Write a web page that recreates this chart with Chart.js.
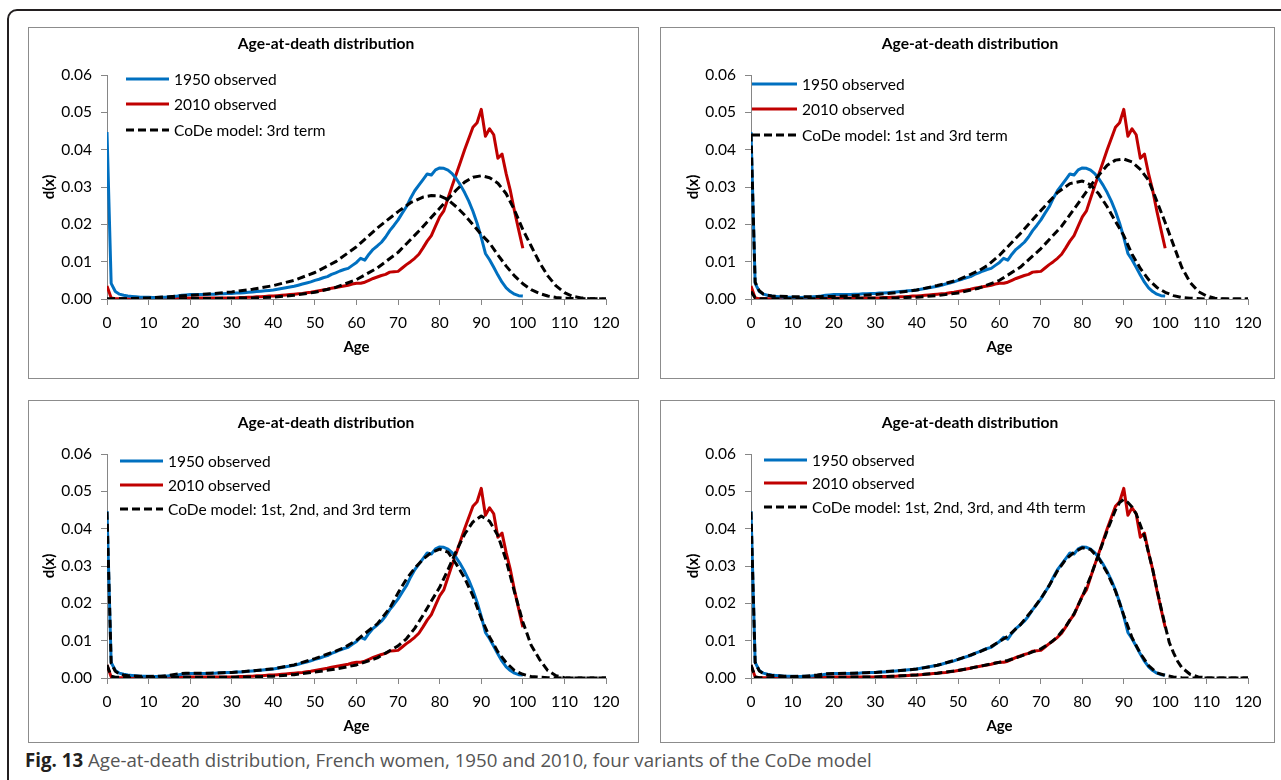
<!DOCTYPE html>
<html>
<head>
<meta charset="utf-8">
<script src="https://cdn.jsdelivr.net/npm/chart.js@4.4.1/dist/chart.umd.min.js"></script>
<style>
  html, body { margin: 0; padding: 0; background: #fff; }
  body { width: 1281px; height: 780px; position: relative; overflow: hidden; }
  #frame { position: absolute; left: 7px; top: 9px; width: 1320px; height: 820px;
           border: 2px solid #231f20; border-radius: 10px; box-sizing: border-box; }
  .panel { position: absolute; border: 1px solid #8c8c8c; background: #fff; }
  .panel canvas { display: block; }
  #caption { position: absolute; left: 25px; top: 747px; font-family: "Open Sans"; font-size: 18.7px;
             color: #555; white-space: nowrap; }
  #caption b { color: #231f20; }
</style>
</head>
<body>
<div id="frame"></div>
<div class="panel" style="left:28px;top:27px;width:609px;height:350px"><canvas id="p1" width="609" height="350"></canvas></div>
<div class="panel" style="left:660px;top:27px;width:613px;height:350px"><canvas id="p2" width="613" height="350"></canvas></div>
<div class="panel" style="left:28px;top:400px;width:609px;height:341px"><canvas id="p3" width="609" height="341"></canvas></div>
<div class="panel" style="left:660px;top:400px;width:613px;height:341px"><canvas id="p4" width="613" height="341"></canvas></div>
<div id="caption"><b>Fig. 13</b> Age-at-death distribution, French women, 1950 and 2010, four variants of the CoDe model</div>

<script>
// observed d(x), single years of age 0..100
var obsAges = [];
for (var a = 0; a <= 100; a++) obsAges.push(a);

var obs1950 = [
  0.0447, 0.0042, 0.0020, 0.0013, 0.0010, 0.0008, 0.0007, 0.0006, 0.0005, 0.0005,
  0.0005, 0.0004, 0.0004, 0.0005, 0.0005, 0.0006, 0.0007, 0.0008, 0.0010, 0.0011,
  0.0012, 0.0012, 0.0012, 0.0012, 0.0012, 0.0013, 0.0013, 0.0014, 0.0014, 0.0015,
  0.0015, 0.0016, 0.0016, 0.0017, 0.0018, 0.0019, 0.0020, 0.0021, 0.0022, 0.0023,
  0.0024, 0.0026, 0.0028, 0.0030, 0.0032, 0.0034, 0.0037, 0.0040, 0.0043, 0.0046,
  0.0050, 0.0053, 0.0057, 0.0060, 0.0066, 0.0070, 0.0075, 0.0079, 0.0082, 0.0090,
  0.0098, 0.0109, 0.0104, 0.0120, 0.0133, 0.0142, 0.0152, 0.0166, 0.0183, 0.0197,
  0.0212, 0.0230, 0.0247, 0.0270, 0.0290, 0.0305, 0.0320, 0.0335, 0.0332, 0.0346,
  0.0351, 0.0350, 0.0345, 0.0336, 0.0322, 0.0305, 0.0285, 0.0262, 0.0235, 0.0203,
  0.0165, 0.0122, 0.0105, 0.0085, 0.0064, 0.0045, 0.0030, 0.0020, 0.0013, 0.0009,
  0.0008
];

var obs2010 = [
  0.0035, 0.0003, 0.0001, 0.0001, 0.0001, 0.0001, 0.0001, 0.0001, 0.0001, 0.0001,
  0.0001, 0.0001, 0.0001, 0.0001, 0.0001, 0.0001, 0.0002, 0.0002, 0.0003, 0.0003,
  0.0003, 0.0003, 0.0003, 0.0003, 0.0003, 0.0003, 0.0003, 0.0003, 0.0003, 0.0003,
  0.0003, 0.0003, 0.0004, 0.0004, 0.0005, 0.0005, 0.0006, 0.0006, 0.0007, 0.0008,
  0.0008, 0.0009, 0.0010, 0.0011, 0.0012, 0.0013, 0.0014, 0.0015, 0.0017, 0.0018,
  0.0020, 0.0022, 0.0024, 0.0026, 0.0029, 0.0031, 0.0033, 0.0035, 0.0037, 0.0040,
  0.0042, 0.0042, 0.0045, 0.0050, 0.0055, 0.0059, 0.0063, 0.0066, 0.0072, 0.0073,
  0.0074, 0.0083, 0.0092, 0.0100, 0.0109, 0.0120, 0.0137, 0.0155, 0.0170, 0.0195,
  0.0220, 0.0236, 0.0270, 0.0303, 0.0335, 0.0367, 0.0400, 0.0430, 0.0460, 0.0472,
  0.0508, 0.0436, 0.0456, 0.0440, 0.0377, 0.0388, 0.0335, 0.0290, 0.0235, 0.0185,
  0.0136
];

// CoDe model fits
// panel 1: 3rd term only
var m1Ages1950 = [0, 5, 10, 15, 20, 25, 30, 35, 40, 45, 50, 55, 60, 65, 70, 73, 76, 78, 80, 82, 84, 86, 88, 90, 92, 94, 96, 98, 100, 102, 104, 106, 108, 110, 115, 120];
var m1Vals1950 = [0, 0.0001, 0.0003, 0.0006, 0.0010, 0.0014, 0.0019, 0.0026, 0.0036, 0.0050, 0.0071, 0.0100, 0.0140, 0.0190, 0.0234, 0.0258, 0.0273, 0.0277, 0.0276, 0.0266, 0.0247, 0.0225, 0.0199, 0.0173, 0.0150, 0.0118, 0.0088, 0.0062, 0.0041, 0.0025, 0.0015, 0.0008, 0.0004, 0.0002, 0.0001, 0];
var m1Ages2010 = [0, 10, 20, 30, 35, 40, 45, 50, 55, 60, 65, 70, 75, 80, 84, 86, 88, 90, 92, 94, 96, 98, 100, 102, 104, 106, 108, 110, 112, 114, 116, 120];
var m1Vals2010 = [0, 0, 0.0001, 0.0002, 0.0003, 0.0005, 0.0010, 0.0018, 0.0031, 0.0052, 0.0083, 0.0125, 0.0182, 0.0243, 0.0292, 0.0313, 0.0326, 0.0330, 0.0325, 0.0310, 0.0282, 0.0238, 0.0186, 0.0142, 0.0098, 0.0062, 0.0035, 0.0017, 0.0007, 0.0003, 0.0001, 0];

// panel 2: 1st and 3rd term
var m2Ages1950 = [0, 1, 2, 3, 4, 5, 10, 15, 20, 25, 30, 35, 40, 45, 50, 55, 57, 60, 65, 70, 74, 77, 80, 82, 84, 86, 88, 90, 92, 94, 96, 98, 100, 102, 104, 106, 110, 120];
var m2Vals1950 = [0.0443, 0.0045, 0.0022, 0.0013, 0.0010, 0.0008, 0.0006, 0.0006, 0.0007, 0.0009, 0.0012, 0.0017, 0.0024, 0.0036, 0.0051, 0.0076, 0.0089, 0.0117, 0.0175, 0.0237, 0.0285, 0.0309, 0.0316, 0.0306, 0.0281, 0.0247, 0.0208, 0.0170, 0.0120, 0.0082, 0.0052, 0.0031, 0.0018, 0.0009, 0.0004, 0.0002, 0, 0];
var m2Ages2010 = [0, 1, 2, 10, 20, 30, 35, 40, 45, 50, 55, 60, 65, 70, 75, 79, 83, 86, 88, 90, 92, 94, 96, 98, 100, 102, 104, 106, 108, 110, 112, 115, 120];
var m2Vals2010 = [0.0020, 0.0003, 0.0001, 0.0001, 0.0001, 0.0002, 0.0003, 0.0005, 0.0009, 0.0016, 0.0029, 0.0050, 0.0085, 0.0135, 0.0195, 0.0256, 0.0319, 0.0358, 0.0372, 0.0375, 0.0367, 0.0347, 0.0318, 0.0262, 0.0205, 0.0145, 0.0085, 0.0045, 0.0020, 0.0008, 0.0002, 0, 0];

// panel 3: 1st, 2nd and 3rd term
var m3Ages1950 = [0, 1, 2, 3, 4, 5, 8, 10, 13, 15, 17, 19, 21, 25, 30, 35, 40, 45, 50, 55, 57, 60, 62, 65, 68, 70, 72, 74, 76, 78, 80, 82, 84, 86, 88, 90, 92, 94, 96, 98, 100, 102, 104, 106, 110, 120];
var m3Vals1950 = [0.0445, 0.0040, 0.0018, 0.0011, 0.0008, 0.0006, 0.0005, 0.0004, 0.0005, 0.0007, 0.0011, 0.0013, 0.0013, 0.0013, 0.0015, 0.0019, 0.0025, 0.0035, 0.0052, 0.0072, 0.0081, 0.0101, 0.0119, 0.0145, 0.0187, 0.0228, 0.0265, 0.0294, 0.0318, 0.0336, 0.0345, 0.0337, 0.0305, 0.0268, 0.0220, 0.0160, 0.0110, 0.0070, 0.0041, 0.0020, 0.0010, 0.0004, 0.0002, 0.0001, 0, 0];
var m3Ages2010 = [0, 1, 2, 5, 10, 15, 20, 25, 30, 35, 40, 45, 50, 55, 60, 65, 70, 72, 74, 76, 78, 80, 82, 84, 86, 88, 90, 92, 94, 96, 98, 100, 102, 104, 106, 108, 110, 112, 120];
var m3Vals2010 = [0.0035, 0.0005, 0.0002, 0.0001, 0.0001, 0.0002, 0.0002, 0.0002, 0.0002, 0.0003, 0.0005, 0.0009, 0.0016, 0.0024, 0.0035, 0.0054, 0.0086, 0.0105, 0.0133, 0.0168, 0.0206, 0.0243, 0.0290, 0.0340, 0.0385, 0.0418, 0.0434, 0.0420, 0.0382, 0.0315, 0.0230, 0.0150, 0.0088, 0.0050, 0.0020, 0.0006, 0.0001, 0, 0];

// panel 4: all four terms
var m4Ages1950 = [0, 1, 2, 3, 4, 5, 8, 10, 13, 16, 18, 20, 25, 30, 35, 40, 45, 50, 55, 58, 60, 62, 65, 68, 70, 72, 74, 76, 78, 80, 82, 84, 86, 88, 90, 92, 94, 96, 98, 100, 102, 104, 106, 120];
var m4Vals1950 = [0.0445, 0.0042, 0.0019, 0.0012, 0.0009, 0.0007, 0.0005, 0.0004, 0.0005, 0.0008, 0.0011, 0.0012, 0.0013, 0.0015, 0.0019, 0.0024, 0.0034, 0.0050, 0.0069, 0.0084, 0.0098, 0.0112, 0.0142, 0.0183, 0.0213, 0.0248, 0.0287, 0.0318, 0.0337, 0.0349, 0.0344, 0.0320, 0.0282, 0.0233, 0.0168, 0.0108, 0.0066, 0.0033, 0.0014, 0.0007, 0.0003, 0.0001, 0, 0];
var m4Ages2010 = [0, 1, 2, 10, 20, 30, 35, 40, 45, 50, 55, 60, 62, 65, 68, 70, 72, 74, 76, 78, 80, 82, 84, 86, 88, 89, 90, 91, 92, 93, 94, 95, 96, 97, 98, 99, 100, 101, 102, 103, 104, 106, 108, 110, 112, 120];
var m4Vals2010 = [0.0035, 0.0003, 0.0001, 0.0001, 0.0002, 0.0003, 0.0005, 0.0008, 0.0013, 0.0020, 0.0031, 0.0042, 0.0047, 0.0058, 0.0070, 0.0078, 0.0092, 0.0110, 0.0138, 0.0172, 0.0218, 0.0272, 0.0333, 0.0395, 0.0450, 0.0470, 0.0478, 0.0470, 0.0458, 0.0440, 0.0410, 0.0380, 0.0335, 0.0290, 0.0238, 0.0188, 0.0140, 0.0095, 0.0068, 0.0045, 0.0028, 0.0010, 0.0003, 0.0001, 0, 0];

var legendLabels = ["1950 observed", "2010 observed"];
var modelLabels = [
  "CoDe model: 3rd term",
  "CoDe model: 1st and 3rd term",
  "CoDe model: 1st, 2nd, and 3rd term",
  "CoDe model: 1st, 2nd, 3rd, and 4th term"
];

var BLUE = "#0070c0", RED = "#c00000", AXIS = "#868686";
var FONT = "Lato";

function pts(xs, ys) {
  return xs.map(function (x, i) { return { x: x, y: ys[i] }; });
}

// titles, axis titles and the in-plot legend, placed relative to the chart area
var panelText = {
  id: "panelText",
  afterDraw: function (chart, args, o) {
    var ctx = chart.ctx, ca = chart.chartArea;
    ctx.save();
    ctx.fillStyle = "#000";
    ctx.textBaseline = "middle";

    ctx.font = "bold 15.6px " + FONT;
    ctx.textAlign = "center";
    ctx.fillText("Age-at-death distribution", ca.left + 219, ca.top - 31);

    ctx.font = "bold 15px " + FONT;
    ctx.fillText("Age", (ca.left + ca.right) / 2, ca.bottom + 48);
    ctx.save();
    ctx.translate(ca.left - 58, (ca.top + ca.bottom) / 2);
    ctx.rotate(-Math.PI / 2);
    ctx.fillText("d(x)", 0, 0);
    ctx.restore();

    ctx.font = "15.5px " + FONT;
    ctx.textAlign = "left";
    var ds = chart.data.datasets;
    for (var i = 0; i < 3; i++) {
      var y = ca.top + o.rows[i];
      ctx.beginPath();
      ctx.strokeStyle = ds[i].borderColor;
      ctx.lineWidth = ds[i].borderWidth;
      ctx.setLineDash(ds[i].borderDash || []);
      ctx.moveTo(ca.left + o.x0, y);
      ctx.lineTo(ca.left + o.x1, y);
      ctx.stroke();
      ctx.fillText(ds[i].label, ca.left + o.x1 + 5, y + 1);
    }
    ctx.restore();
  }
};

function makePanel(id, m1950, m2010, label, box) {
  var dash = [8, 4];
  new Chart(document.getElementById(id), {
    type: "line",
    data: {
      datasets: [
        { label: legendLabels[0], data: pts(obsAges, obs1950), borderColor: BLUE, borderWidth: 3, order: 2 },
        { label: legendLabels[1], data: pts(obsAges, obs2010), borderColor: RED, borderWidth: 3, order: 2 },
        { label: label, data: m1950, borderColor: "#000", borderWidth: 3, borderDash: dash, order: 1 },
        { label: label, data: m2010, borderColor: "#000", borderWidth: 3, borderDash: dash, order: 1 }
      ]
    },
    options: {
      responsive: false,
      animation: false,
      elements: { point: { radius: 0 }, line: { tension: 0, borderCapStyle: "butt", borderJoinStyle: "round" } },
      layout: { padding: { left: 0, top: box.top, right: box.right, bottom: 0 } },
      plugins: {
        legend: { display: false },
        tooltip: { enabled: false },
        panelText: box.legend
      },
      scales: {
        x: {
          type: "linear", min: 0, max: 120,
          ticks: { stepSize: 10, color: "#000", padding: 9, maxRotation: 0, font: { family: FONT, size: 15.5 } },
          grid: { drawOnChartArea: false, drawTicks: true, tickLength: 6, color: AXIS },
          border: { color: AXIS, width: 1 },
          afterFit: function (s) { s.height = box.bottom; }
        },
        y: {
          min: 0, max: 0.06,
          ticks: { stepSize: 0.01, color: "#000", padding: 9,
                   font: { family: FONT, size: 15.5 },
                   callback: function (v) { return v.toFixed(2); } },
          grid: { drawOnChartArea: false, drawTicks: true, tickLength: 6, color: AXIS },
          border: { color: AXIS, width: 1 },
          afterFit: function (s) { s.width = box.left; }
        }
      }
    },
    plugins: [panelText]
  });
}

makePanel("p1", pts(m1Ages1950, m1Vals1950), pts(m1Ages2010, m1Vals2010), modelLabels[0],
  { left: 78, right: 32, top: 47, bottom: 79, legend: { x0: 19, x1: 62, rows: [4, 29, 55] } });
makePanel("p2", pts(m2Ages1950, m2Vals1950), pts(m2Ages2010, m2Vals2010), modelLabels[1],
  { left: 90, right: 26, top: 47, bottom: 79, legend: { x0: 1, x1: 46, rows: [9, 34, 60] } });
makePanel("p3", pts(m3Ages1950, m3Vals1950), pts(m3Ages2010, m3Vals2010), modelLabels[2],
  { left: 78, right: 32, top: 53, bottom: 64, legend: { x0: 13, x1: 56, rows: [7, 31, 55] } });
makePanel("p4", pts(m4Ages1950, m4Vals1950), pts(m4Ages2010, m4Vals2010), modelLabels[3],
  { left: 90, right: 26, top: 53, bottom: 64, legend: { x0: 13, x1: 56, rows: [6, 29, 53] } });
</script>
</body>
</html>
